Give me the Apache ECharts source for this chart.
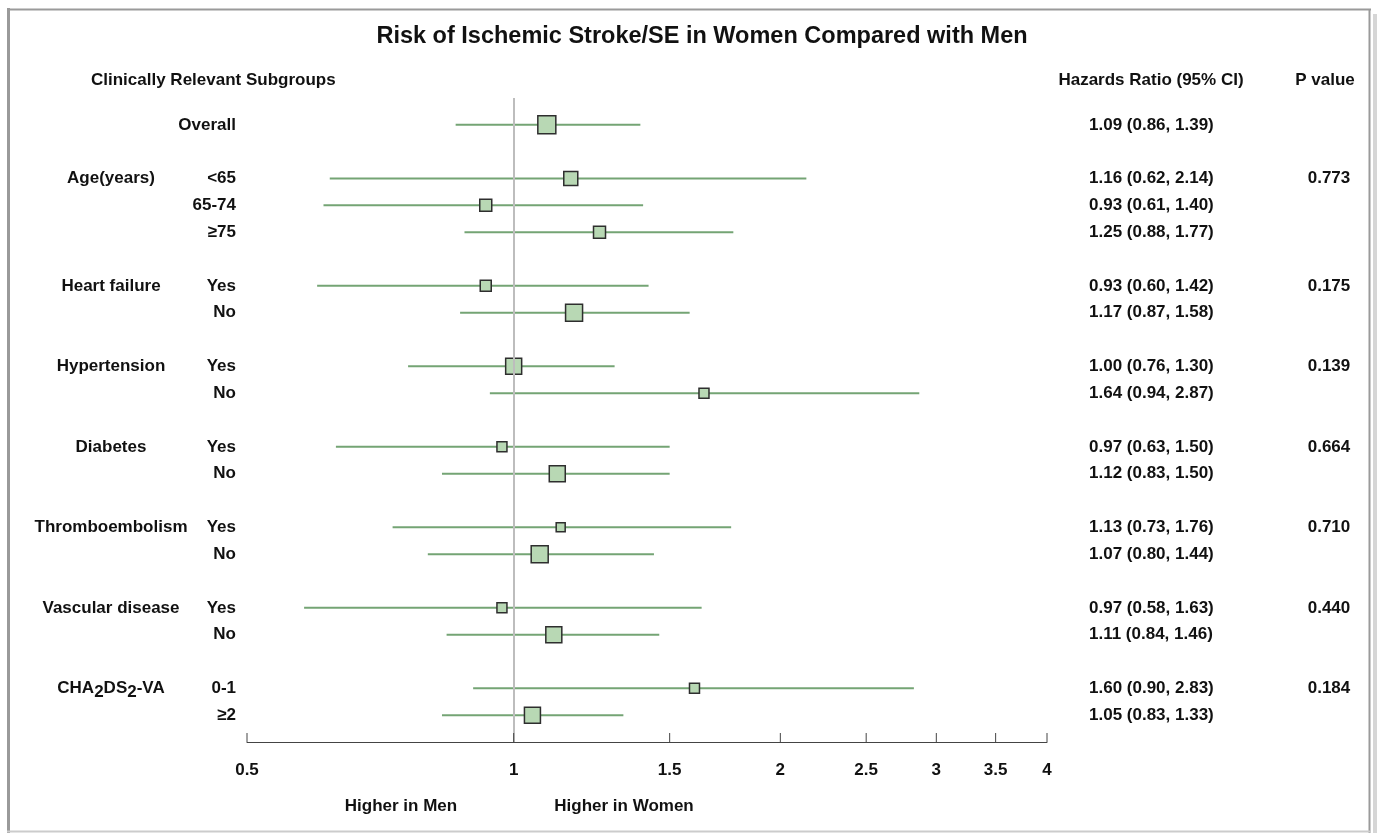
<!DOCTYPE html>
<html>
<head>
<meta charset="utf-8">
<script src="https://cdn.jsdelivr.net/npm/echarts@6/dist/echarts.min.js"></script>
<style>
  html, body { margin: 0; padding: 0; background: #fff; }
  #chart { width: 1377px; height: 833px; }
</style>
</head>
<body>
<div id="chart"></div>
<script>
// Subgroup rows, top to bottom
const subgroups = ['Overall', '<65', '65-74', '≥75', 'Yes', 'No', 'Yes', 'No', 'Yes', 'No', 'Yes', 'No', 'Yes', 'No', '0-1', '≥2'];
const groups = ['', 'Age(years)', '', '', 'Heart failure', '', 'Hypertension', '', 'Diabetes', '', 'Thromboembolism', '', 'Vascular disease', '', 'CHA₂DS₂-VA', ''];
const hazardRatio = [1.09, 1.16, 0.93, 1.25, 0.93, 1.17, 1.00, 1.64, 0.97, 1.12, 1.13, 1.07, 0.97, 1.11, 1.60, 1.05];
const ciLower = [0.86, 0.62, 0.61, 0.88, 0.60, 0.87, 0.76, 0.94, 0.63, 0.83, 0.73, 0.80, 0.58, 0.84, 0.90, 0.83];
const ciUpper = [1.39, 2.14, 1.40, 1.77, 1.42, 1.58, 1.30, 2.87, 1.50, 1.50, 1.76, 1.44, 1.63, 1.46, 2.83, 1.33];
const pValues = ['', '0.773', '', '', '0.175', '', '0.139', '', '0.664', '', '0.710', '', '0.440', '', '0.184', ''];
// relative weight of each estimate, drawn as the square's side
const weight = [18, 14, 12, 12, 11, 17, 16, 10, 10, 16, 9, 17, 10, 16, 10, 16];
const xTicks = [0.5, 1, 1.5, 2, 2.5, 3, 3.5, 4];

const FONT = '"Liberation Sans", Arial, sans-serif';
const TEXT = '#111';

// Lay rows out on a category axis: a blank row opens every group block,
// plus one blank row at each end.
const rowSub = [''], rowGroup = [''], rowHR = [''], rowP = [''];
const rowIndex = [];
subgroups.forEach((s, i) => {
  if (groups[i] !== '') { rowSub.push(''); rowGroup.push(''); rowHR.push(''); rowP.push(''); }
  rowIndex.push(rowSub.length);
  rowSub.push(s);
  rowGroup.push(groups[i]);
  rowHR.push(`${hazardRatio[i].toFixed(2)} (${ciLower[i].toFixed(2)}, ${ciUpper[i].toFixed(2)})`);
  rowP.push(pValues[i]);
});
rowSub.push(''); rowGroup.push(''); rowHR.push(''); rowP.push('');
const lastRow = rowSub.length - 1;

const labelBase = { fontSize: 17, fontWeight: 'bold', color: TEXT, fontFamily: FONT, interval: 0 };
function rowAxis(data, position, margin, align, extra) {
  return Object.assign({
    type: 'category', data, inverse: true, boundaryGap: false, position,
    axisLine: { show: false }, axisTick: { show: false }, splitLine: { show: false },
    axisLabel: Object.assign({}, labelBase, { margin, align })
  }, extra || {});
}

const chart = echarts.init(document.getElementById('chart'), null, { renderer: 'canvas' });

chart.setOption({
  animation: false,
  backgroundColor: '#fff',
  grid: { left: 247, right: 330, top: 98, bottom: 91, containLabel: false },
  xAxis: {
    type: 'log', logBase: 2, min: 0.5, max: 4,
    axisLine: { show: true, lineStyle: { color: '#444', width: 1 } },
    axisTick: { show: false }, axisLabel: { show: false }, splitLine: { show: false }
  },
  yAxis: [
    rowAxis(rowSub, 'left', 11, 'right'),
    rowAxis(rowGroup, 'left', 136, 'center'),
    rowAxis(rowHR, 'right', 42, 'left'),
    rowAxis(rowP, 'right', 282, 'center')
  ],
  series: [
    {
      // confidence intervals
      type: 'custom', name: 'CI', z: 2, clip: false,
      encode: { x: [0, 1], y: 2 },
      data: ciLower.map((lo, i) => [lo, ciUpper[i], rowIndex[i]]),
      renderItem(params, api) {
        const a = api.coord([api.value(0), api.value(2)]);
        const b = api.coord([api.value(1), api.value(2)]);
        return {
          type: 'line',
          shape: { x1: a[0], y1: a[1], x2: b[0], y2: b[1] },
          style: { stroke: '#74a474', lineWidth: 2 }
        };
      }
    },
    {
      // line of no difference
      type: 'line', name: 'ref', z: 3, data: [],
      markLine: {
        silent: true, symbol: ['none', 'none'], label: { show: false },
        lineStyle: { color: '#bdbdbd', width: 2, type: 'solid' },
        data: [{ xAxis: 1 }]
      }
    },
    {
      // point estimates
      type: 'scatter', name: 'HR', z: 4, symbol: 'rect',
      data: hazardRatio.map((v, i) => [v, rowIndex[i]]),
      symbolSize: (val, params) => weight[params.dataIndex],
      itemStyle: { color: '#b8d8b4', borderColor: '#2e2e2e', borderWidth: 1.5, opacity: 1 }
    },
    {
      // x-axis ticks and tick labels
      type: 'custom', name: 'ticks', z: 5, clip: false,
      encode: { x: 0, y: 1 },
      data: xTicks.map(v => [v, lastRow]),
      renderItem(params, api) {
        const p = api.coord([api.value(0), api.value(1)]);
        return {
          type: 'group',
          children: [
            { type: 'line', shape: { x1: p[0], y1: p[1], x2: p[0], y2: p[1] - 9 },
              style: { stroke: '#444', lineWidth: 1 } },
            { type: 'text', x: p[0], y: p[1] + 28,
              style: { text: String(xTicks[params.dataIndex]), align: 'center', verticalAlign: 'middle',
                       textAlign: 'center', textVerticalAlign: 'middle',
                       font: `bold 17px ${FONT}`, fill: TEXT } }
          ]
        };
      }
    }
  ],
  graphic: [
    { type: 'text', x: 702, y: 37, style: { text: 'Risk of Ischemic Stroke/SE in Women Compared with Men', font: `bold 23.5px ${FONT}`, fill: TEXT, align: 'center', verticalAlign: 'middle' } },
    { type: 'text', x: 91, y: 80, style: { text: 'Clinically Relevant Subgroups', font: `bold 17px ${FONT}`, fill: TEXT, verticalAlign: 'middle' } },
    { type: 'text', x: 1151, y: 80, style: { text: 'Hazards Ratio (95% CI)', font: `bold 17px ${FONT}`, fill: TEXT, align: 'center', verticalAlign: 'middle' } },
    { type: 'text', x: 1325, y: 80, style: { text: 'P value', font: `bold 17px ${FONT}`, fill: TEXT, align: 'center', verticalAlign: 'middle' } },
    { type: 'text', x: 401, y: 806, style: { text: 'Higher in Men', font: `bold 17px ${FONT}`, fill: TEXT, align: 'center', verticalAlign: 'middle' } },
    { type: 'text', x: 624, y: 806, style: { text: 'Higher in Women', font: `bold 17px ${FONT}`, fill: TEXT, align: 'center', verticalAlign: 'middle' } },
    // frame
    { type: 'line', shape: { x1: 8.5, y1: 8, x2: 8.5, y2: 833 }, style: { stroke: '#9a9a9a', lineWidth: 3 } },
    { type: 'line', shape: { x1: 7, y1: 9.5, x2: 1371, y2: 9.5 }, style: { stroke: '#9a9a9a', lineWidth: 2 } },
    { type: 'line', shape: { x1: 1369.5, y1: 9, x2: 1369.5, y2: 833 }, style: { stroke: '#9a9a9a', lineWidth: 2 } },
    { type: 'line', shape: { x1: 7, y1: 831.5, x2: 1371, y2: 831.5 }, style: { stroke: '#cccccc', lineWidth: 2 } },
    { type: 'rect', shape: { x: 1373, y: 14, width: 4, height: 819 }, style: { fill: '#d6d6d6' } }
  ]
});

// render the ₂ of the score name as a lowered digit
chart.setOption({
  yAxis: [{}, {
    axisLabel: {
      formatter: v => v.indexOf('₂') < 0 ? v :
        v.split('₂').map((s, i, a) => `{n|${s}}` + (i < a.length - 1 ? '{s|2}' : '')).join(''),
      rich: {
        n: { fontSize: 17, fontWeight: 'bold', fontFamily: FONT, color: TEXT, verticalAlign: 'top', lineHeight: 18 },
        s: { fontSize: 17, fontWeight: 'bold', fontFamily: FONT, color: TEXT, verticalAlign: 'top', lineHeight: 18, padding: [4, 0, 0, 0] }
      }
    }
  }, {}, {}]
});
</script>
</body>
</html>
